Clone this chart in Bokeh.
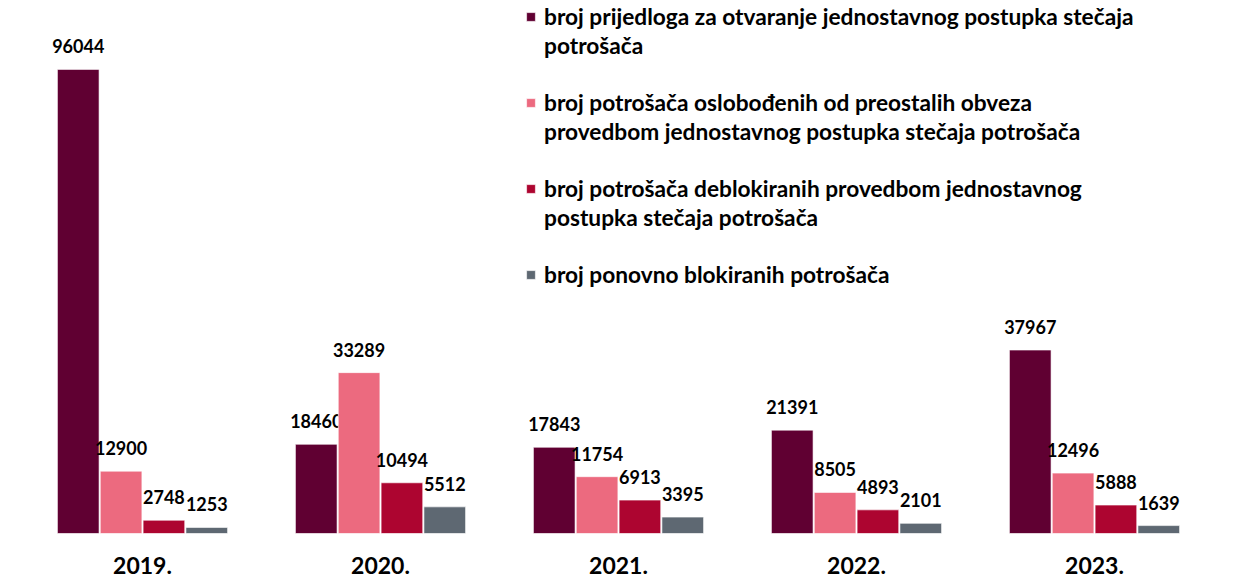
from bokeh.plotting import figure
from bokeh.models import ColumnDataSource, FactorRange, Legend, LegendItem, Range1d
from bokeh.transform import dodge
from bokeh.core.properties import value
from bokeh.embed import file_html
from bokeh.resources import INLINE

years = ["2019.", "2020.", "2021.", "2022.", "2023."]
prijedlozi = [96044, 18460, 17843, 21391, 37967]
oslobodeni = [12900, 33289, 11754, 8505, 12496]
deblokirani = [2748, 10494, 6913, 4893, 5888]
ponovno_blokirani = [1253, 5512, 3395, 2101, 1639]

# legend names, one list of wrapped lines per series
series_names = [
    ["broj prijedloga za otvaranje jednostavnog postupka stečaja", "potrošača"],
    ["broj potrošača oslobođenih od preostalih obveza", "provedbom jednostavnog postupka stečaja potrošača"],
    ["broj potrošača deblokiranih provedbom jednostavnog", "postupka stečaja potrošača"],
    ["broj ponovno blokiranih potrošača"],
]
series_values = [prijedlozi, oslobodeni, deblokirani, ponovno_blokirani]
colors = ["#600032", "#EC6A7F", "#AD0530", "#5E6872"]
offsets = [-0.27, -0.09, 0.09, 0.27]

FONT = "Lato"

p = figure(
    x_range=FactorRange(factors=years, range_padding=0),
    y_range=Range1d(0, 110300),
    width=1239, height=584,
    output_backend="svg", toolbar_location=None,
    min_border_left=23, min_border_right=26, min_border_top=0, min_border_bottom=51,
)
p.outline_line_color = None
p.xgrid.grid_line_color = None
p.ygrid.grid_line_color = None
p.yaxis.visible = False
p.xaxis.axis_line_color = None
p.xaxis.major_tick_line_color = None
p.xaxis.minor_tick_line_color = None
p.xaxis.major_tick_out = 0
p.xaxis.major_tick_in = 0
p.xaxis.major_label_text_font = FONT
p.xaxis.major_label_text_font_style = "bold"
p.xaxis.major_label_text_font_size = "23px"
p.xaxis.major_label_text_color = "#000000"
p.xaxis.major_label_standoff = 23

# invisible renderer used for continuation / spacer rows of the legend
blank = p.vbar(x=[], top=[], width=0.1, fill_alpha=0, line_alpha=0)

items = []
for i, (lines, vals, col, off) in enumerate(zip(series_names, series_values, colors, offsets)):
    src = ColumnDataSource(dict(year=years, val=vals, lab=[str(v) for v in vals]))
    r = p.vbar(x=dodge("year", off, range=p.x_range), top="val", width=0.175,
               source=src, fill_color=col, line_color="#FFFFFF", line_alpha=0.6, line_width=1)
    p.text(x=dodge("year", off, range=p.x_range), y="val", text="lab", source=src,
           text_font=value(FONT), text_font_style="bold", text_font_size="18px",
           text_color="#000000", text_align="center", text_baseline="alphabetic",
           y_offset=-23)
    items.append(LegendItem(label=lines[0], renderers=[r]))
    for extra in lines[1:]:
        items.append(LegendItem(label=extra, renderers=[blank]))
    if i < len(series_names) - 1:
        items.append(LegendItem(label=" ", renderers=[blank]))

legend = Legend(
    items=items, location=(502, 245),
    label_text_font=FONT, label_text_font_style="bold", label_text_font_size="22.7px",
    label_text_color="#000000", label_height=26,
    glyph_width=11, glyph_height=11, label_standoff=8, spacing=2,
    padding=0, margin=0, border_line_color=None, background_fill_alpha=0,
)
p.add_layout(legend, "center")

open("out.html", "w").write(file_html(p, INLINE))
